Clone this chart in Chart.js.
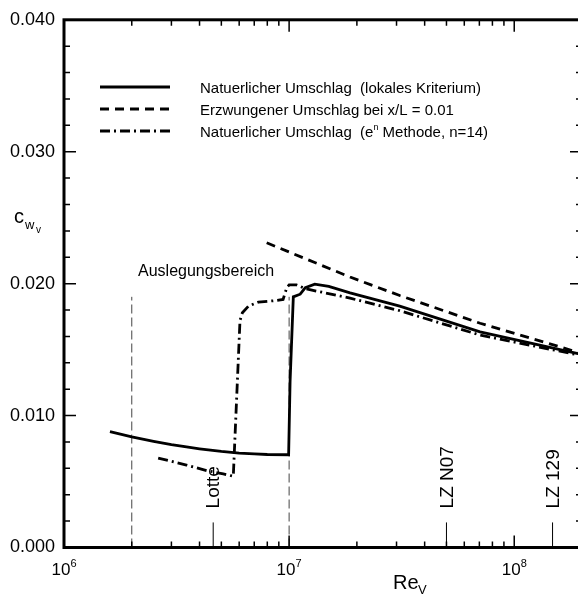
<!DOCTYPE html>
<html>
<head>
<meta charset="utf-8">
<script src="https://cdn.jsdelivr.net/npm/chart.js@4/dist/chart.umd.min.js"></script>
<style>
html, body { margin: 0; padding: 0; background: #fff; overflow: hidden; }
#wrap { position: relative; width: 586px; height: 594px; }
</style>
</head>
<body>
<div id="wrap"><canvas id="chart"></canvas></div>
<script>
// Natuerlicher Umschlag (lokales Kriterium)
let solidRe = [1.6e6, 2e6, 2.5e6, 3e6, 3.5e6, 4e6, 5e6, 6e6, 7e6, 8e6, 9.95e6, 1.01e7, 1.044e7, 1.12e7, 1.18e7, 1.3e7, 1.5e7, 1.865e7, 3.1e7, 7.05e7, 1.92e8, 2e8];
let solidCw = [0.00878, 0.00838, 0.00805, 0.00780, 0.00762, 0.00748, 0.00728, 0.00716, 0.00709, 0.00705, 0.00703, 0.0126, 0.0190, 0.0192, 0.0197, 0.01996, 0.0198, 0.0193, 0.0183, 0.01635, 0.0147, 0.01463];

// Erzwungener Umschlag bei x/L = 0.01
let forcedRe = [7.95e6, 1e7, 1.3e7, 1.865e7, 3.1e7, 7.05e7, 1.92e8, 2e8];
let forcedCw = [0.0231, 0.0224, 0.0216, 0.0205, 0.0191, 0.0170, 0.0148, 0.01475];

// Natuerlicher Umschlag (e^n Methode, n=14)
let enRe = [2.62e6, 3.5e6, 4.3e6, 5.1e6, 5.65e6, 6.05e6, 6.2e6, 6.6e6, 7.3e6, 8.5e6, 9.4e6, 9.76e6, 1e7, 1.08e7, 1.19e7, 1.4e7, 1.865e7, 3.1e7, 7.05e7, 1.92e8, 2e8];
let enCw = [0.00678, 0.00625, 0.00583, 0.00558, 0.0054, 0.0172, 0.0178, 0.0183, 0.0186, 0.0187, 0.0188, 0.0197, 0.0199, 0.0199, 0.0196, 0.01935, 0.0189, 0.01795, 0.0161, 0.0146, 0.01455];

let designRe = [2e6, 1e7];
let designTop = 0.019;
let siteRe = [4.6e6, 5e7, 1.48e8];
let siteNames = ["Lotte", "LZ N07", "LZ 129"];
let siteTop = 0.0019;

let xMajor = [1e6, 1e7, 1e8];
let xExp = ["6", "7", "8"];
let yLabels = [0, 0.01, 0.02, 0.03, 0.04];

let legendLabels = [
    ["Natuerlicher Umschlag  (lokales Kriterium)"],
    ["Erzwungener Umschlag bei x/L = 0.01"],
    ["Natuerlicher Umschlag  (e", "n", " Methode, n=14)"]
];

const FONT = '"Liberation Sans", Arial, sans-serif';

function toPoints(xs, ys) {
    return xs.map((v, i) => ({ x: v, y: ys[i] }));
}

function curve(label, xs, ys, dash) {
    return {
        label: label,
        data: toPoints(xs, ys),
        borderColor: "#000",
        borderWidth: 2.8,
        borderDash: dash,
        pointRadius: 0,
        tension: 0,
        fill: false
    };
}

function vline(v, top, dash) {
    return {
        data: [{ x: v, y: 0 }, { x: v, y: top }],
        borderColor: dash.length ? "#444" : "#000",
        borderWidth: 1,
        borderDash: dash,
        pointRadius: 0,
        fill: false
    };
}

let datasets = [
    curve("solid", solidRe, solidCw, []),
    curve("forced", forcedRe, forcedCw, [9, 6]),
    curve("en", enRe, enCw, [10, 4, 2, 4])
];
designRe.forEach(v => datasets.push(vline(v, designTop, [9, 4])));
siteRe.forEach(v => datasets.push(vline(v, siteTop, [])));

function drawTicks(ctx, a, x, y) {
    ctx.lineWidth = 1.5;
    ctx.beginPath();
    for (let d = 1e6; d < 2e8; d *= 10) {
        for (let m = 1; m <= 9; m++) {
            let v = d * m;
            if (v > 2e8) break;
            let px = x.getPixelForValue(v);
            let len = m === 1 ? 12 : 6;
            ctx.moveTo(px, a.bottom); ctx.lineTo(px, a.bottom - len);
            ctx.moveTo(px, a.top); ctx.lineTo(px, a.top + len);
        }
    }
    for (let k = 0; k <= 20; k++) {
        let py = y.getPixelForValue(k * 0.002);
        let len = k % 5 === 0 ? 12 : 6;
        ctx.moveTo(a.left, py); ctx.lineTo(a.left + len, py);
        ctx.moveTo(a.right, py); ctx.lineTo(a.right - len, py);
    }
    ctx.stroke();
    ctx.lineWidth = 3;
    ctx.strokeRect(a.left, a.top, a.right - a.left, a.bottom - a.top);
}

function drawXLabels(ctx, x) {
    xMajor.forEach((v, i) => {
        let px = x.getPixelForValue(v);
        ctx.font = "17px " + FONT;
        let w1 = ctx.measureText("10").width;
        ctx.font = "11px " + FONT;
        let w2 = ctx.measureText(xExp[i]).width;
        let left = px - (w1 + w2) / 2;
        ctx.font = "17px " + FONT;
        ctx.fillText("10", left, 575);
        ctx.font = "11px " + FONT;
        ctx.fillText(xExp[i], left + w1, 567);
    });
    ctx.font = "20px " + FONT;
    ctx.fillText("Re", 393, 589);
    ctx.font = "13px " + FONT;
    ctx.fillText("V", 418, 594);
}

function drawYTitle(ctx) {
    ctx.font = "20px " + FONT;
    ctx.fillText("c", 14, 223);
    ctx.font = "13px " + FONT;
    ctx.fillText("w", 25, 229);
    ctx.font = "10px " + FONT;
    ctx.fillText("v", 36, 233);
}

function drawLegend(ctx, chart) {
    let rows = [87, 109, 131];
    for (let i = 0; i < 3; i++) {
        let ds = chart.data.datasets[i];
        ctx.save();
        ctx.lineWidth = ds.borderWidth;
        ctx.setLineDash(ds.borderDash);
        ctx.beginPath();
        ctx.moveTo(100, rows[i]);
        ctx.lineTo(170, rows[i]);
        ctx.stroke();
        ctx.restore();
        let parts = legendLabels[i];
        let px = 200;
        ctx.textBaseline = "alphabetic";
        parts.forEach((t, j) => {
            let sup = j === 1;
            ctx.font = (sup ? "9px " : "15px ") + FONT;
            ctx.fillText(t, px, rows[i] + (sup ? -1 : 6));
            px += ctx.measureText(t).width;
        });
    }
}

function drawSiteLabels(ctx, x, y) {
    ctx.font = "19px " + FONT;
    ctx.textAlign = "left";
    ctx.textBaseline = "middle";
    siteRe.forEach((v, i) => {
        let px = x.getPixelForValue(v);
        let py = y.getPixelForValue(siteTop) - 14;
        ctx.save();
        ctx.translate(px + 1, py);
        ctx.rotate(-Math.PI / 2);
        ctx.fillText(siteNames[i], 0, 0);
        ctx.restore();
    });
    ctx.textBaseline = "middle";
    ctx.font = "16px " + FONT;
    ctx.fillText("Auslegungsbereich", 138, 272);
}

const annotate = {
    id: "annotate",
    afterDraw(chart) {
        let { ctx, chartArea: a, scales: { x, y } } = chart;
        ctx.save();
        ctx.strokeStyle = "#000";
        ctx.fillStyle = "#000";
        drawTicks(ctx, a, x, y);
        ctx.textAlign = "left";
        ctx.textBaseline = "alphabetic";
        drawXLabels(ctx, x);
        drawYTitle(ctx);
        drawLegend(ctx, chart);
        drawSiteLabels(ctx, x, y);
        ctx.restore();
    }
};

new Chart(document.getElementById("chart"), {
    type: "line",
    data: { datasets: datasets },
    options: {
        responsive: true,
        maintainAspectRatio: false,
        animation: false,
        devicePixelRatio: 1,
        layout: { padding: { top: 16, right: 4, left: 0, bottom: 0 } },
        plugins: { legend: { display: false }, tooltip: { enabled: false } },
        scales: {
            x: {
                type: "logarithmic",
                min: 1e6,
                max: 2e8,
                grid: { display: false, drawTicks: false },
                border: { display: false },
                ticks: { display: false },
                afterFit: s => { s.height = 46.5; }
            },
            y: {
                type: "linear",
                min: 0,
                max: 0.04,
                grid: { display: false, drawTicks: false },
                border: { display: false },
                afterBuildTicks: s => { s.ticks = yLabels.map(v => ({ value: v })); },
                ticks: {
                    padding: 9,
                    color: "#000",
                    font: { family: FONT, size: 18 },
                    callback: v => v.toFixed(3)
                },
                afterFit: s => { s.width = 64; }
            }
        }
    },
    plugins: [annotate]
});
</script>
</body>
</html>
